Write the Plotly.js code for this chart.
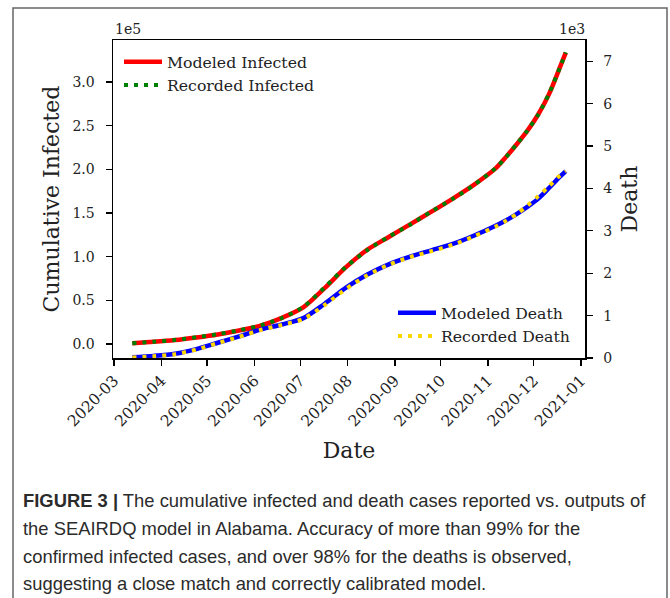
<!DOCTYPE html>
<html><head><meta charset="utf-8">
<script src="https://cdn.plot.ly/plotly-3.0.1.min.js"></script>
<style>html,body{margin:0;padding:0;background:#fff;} #chart{width:670px;height:598px;}</style>
</head><body><div id="chart"></div>
<script>
const dates = ['2020-03-13','2020-03-27','2020-04-10','2020-04-24','2020-05-08','2020-05-22','2020-06-05','2020-06-19','2020-07-03','2020-07-17','2020-07-31','2020-08-14','2020-08-28','2020-09-11','2020-09-25','2020-10-09','2020-10-23','2020-11-06','2020-11-13','2020-11-20','2020-11-27','2020-12-04','2020-12-11','2020-12-18','2020-12-22'];
// cumulative infected, units of 1e5
const modeledInfected  = [0.010,0.025,0.045,0.075,0.110,0.155,0.210,0.300,0.420,0.640,0.880,1.080,1.225,1.370,1.515,1.665,1.825,2.010,2.145,2.290,2.445,2.630,2.860,3.160,3.335];
const recordedInfected = [0.008,0.026,0.047,0.077,0.112,0.157,0.212,0.298,0.425,0.648,0.884,1.076,1.228,1.366,1.518,1.662,1.822,2.014,2.142,2.292,2.448,2.628,2.865,3.158,3.338];
// cumulative deaths, units of 1e3
const modeledDeath  = [0.02,0.05,0.10,0.21,0.36,0.51,0.67,0.79,0.94,1.28,1.66,1.97,2.21,2.39,2.54,2.69,2.89,3.12,3.25,3.40,3.57,3.76,4.01,4.27,4.41];
const recordedDeath = [0.01,0.04,0.09,0.20,0.35,0.50,0.66,0.78,0.92,1.25,1.63,1.95,2.20,2.38,2.52,2.67,2.87,3.10,3.24,3.40,3.60,3.82,4.05,4.30,4.40];
const infectedTicks = [0,0.5,1.0,1.5,2.0,2.5,3.0];
const deathTicks = [0,1,2,3,4,5,6,7];
const seriesNames = ['Modeled Infected','Recorded Infected','Modeled Death','Recorded Death'];
const captionLines = [
  '<b>FIGURE 3 |</b> The cumulative infected and death cases reported vs. outputs of',
  'the SEAIRDQ model in Alabama. Accuracy of more than 99% for the',
  'confirmed infected cases, and over 98% for the deaths is observed,',
  'suggesting a close match and correctly calibrated model.'
];

const W = 670, H = 598, L = 113, R = 585, T = 40, B = 358;
const px = x => (x - L) / (R - L);
const py = y => (B - y) / (B - T);
const serif = 'DejaVu Serif';

const traces = [
  {x: dates, y: modeledInfected, name: seriesNames[0], yaxis: 'y', legend: 'legend', mode: 'lines',
   line: {color: '#ff0000', width: 4.5, shape: 'spline', smoothing: 0.8}},
  {x: dates, y: recordedInfected, name: seriesNames[1], yaxis: 'y', legend: 'legend', mode: 'lines',
   line: {color: '#008000', width: 4, dash: '4px,6px', shape: 'spline', smoothing: 0.8}},
  {x: dates, y: modeledDeath, name: seriesNames[2], yaxis: 'y2', legend: 'legend2', mode: 'lines',
   line: {color: '#0000ff', width: 4.5, shape: 'spline', smoothing: 0.8}},
  {x: dates, y: recordedDeath, name: seriesNames[3], yaxis: 'y2', legend: 'legend2', mode: 'lines',
   line: {color: '#ffd700', width: 4, dash: '4px,6px', shape: 'spline', smoothing: 0.8}}
];

const axisCommon = {
  showgrid: false, zeroline: false, showline: true, linecolor: '#000', linewidth: 1.5,
  ticks: 'outside', ticklen: 6, tickwidth: 1.3, tickcolor: '#000',
  tickfont: {family: serif, size: 14, color: '#222'}
};

const annotations = [
  {text: '1e5', xref: 'paper', yref: 'paper', x: 0, y: py(29), xanchor: 'left', yanchor: 'middle', showarrow: false,
   font: {family: serif, size: 14, color: '#222'}},
  {text: '1e3', xref: 'paper', yref: 'paper', x: px(587), y: py(29), xanchor: 'right', yanchor: 'middle', showarrow: false,
   font: {family: serif, size: 14, color: '#222'}}
];
const captionY = [500, 528, 556, 583];
captionLines.forEach((t, i) => annotations.push({
  text: t, xref: 'paper', yref: 'paper', x: px(21), y: py(captionY[i]), xanchor: 'left', yanchor: 'middle',
  showarrow: false, font: {family: 'Liberation Sans', size: 18.4, color: '#2b2b2b'}
}));

const layout = {
  width: W, height: H,
  margin: {l: L, r: W - R, t: T, b: H - B, pad: 0},
  paper_bgcolor: '#fff', plot_bgcolor: '#fff',
  xaxis: Object.assign({}, axisCommon, {
    type: 'date', range: ['2020-02-29 08:00', '2021-01-03 14:00'],
    dtick: 'M1', tick0: '2020-03-01', tickformat: '%Y-%m', tickangle: -45, mirror: true,
    tickfont: {family: serif, size: 15.5, color: '#222'},
    title: {text: 'Date', font: {family: serif, size: 22, color: '#222'}, standoff: 13}
  }),
  yaxis: Object.assign({}, axisCommon, {
    range: [-0.16, 3.48], tickvals: infectedTicks, tickformat: '.1f', ticklabelstandoff: 8,
    title: {text: 'Cumulative Infected', font: {family: serif, size: 22, color: '#222'}, standoff: 6}
  }),
  yaxis2: Object.assign({}, axisCommon, {
    overlaying: 'y', side: 'right', range: [0, 7.5], tickvals: deathTicks, ticklabelstandoff: 8,
    title: {text: 'Death', font: {family: serif, size: 22, color: '#222'}, standoff: 10}
  }),
  showlegend: true,
  legend: {x: px(119), y: py(45), xanchor: 'left', yanchor: 'top', bgcolor: 'rgba(0,0,0,0)',
    font: {family: serif, size: 15.7, color: '#222'}, itemwidth: 38, tracegroupgap: 0},
  legend2: {x: px(393), y: py(296), xanchor: 'left', yanchor: 'top', bgcolor: 'rgba(0,0,0,0)',
    font: {family: serif, size: 15.7, color: '#222'}, itemwidth: 38, tracegroupgap: 0},
  shapes: [
    {type: 'rect', xref: 'paper', yref: 'paper', x0: px(13), x1: px(667), y0: py(8), y1: py(620),
     line: {color: '#666', width: 1.5}, fillcolor: 'rgba(0,0,0,0)'}
  ],
  annotations: annotations
};

Plotly.newPlot('chart', traces, layout, {staticPlot: true, displayModeBar: false});
</script></body></html>
